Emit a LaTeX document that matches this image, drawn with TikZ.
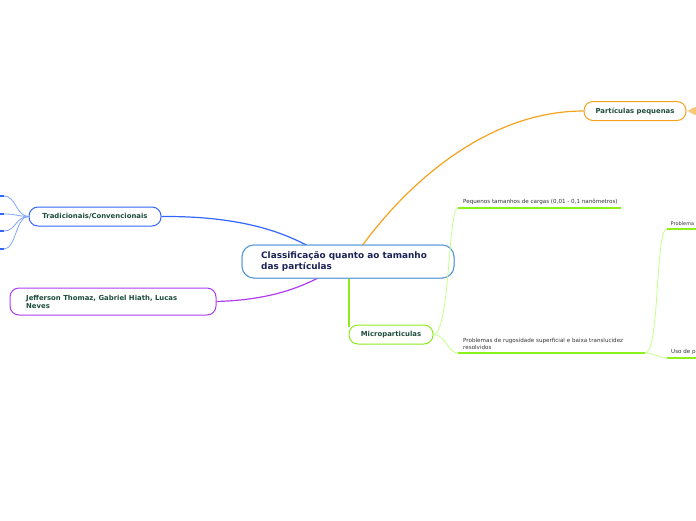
\documentclass[tikz,border=0pt]{standalone}
\usepackage{fontspec}
\setmainfont{DejaVu Sans}
\definecolor{cblue}{HTML}{5A9AD8}
\definecolor{navy}{HTML}{1C2255}
\definecolor{dgreen}{HTML}{1D4D3C}
\definecolor{tblue}{HTML}{3366FF}
\definecolor{lblue}{HTML}{7FA3FF}
\definecolor{cpurple}{HTML}{B03CF0}
\definecolor{corange}{HTML}{F5A21E}
\definecolor{cgreen}{HTML}{8CEB1E}
\definecolor{lgreen}{HTML}{C4FF8A}
\definecolor{ugreen}{HTML}{8CF01A}
\definecolor{txt}{HTML}{333333}
\tikzset{
  topic/.style={draw, line width=1pt, rounded corners=9pt, fill=white, font=\bfseries\fontsize{6.9}{8}\selectfont, text=dgreen, inner sep=0pt},
  small/.style={font=\fontsize{5.6}{7}\selectfont, text=txt, anchor=south west, inner sep=0pt, align=left},
  uline/.style={draw=ugreen, line width=1.6pt},
  sub/.style={draw=lgreen, line width=0.8pt},
  cbox/.style={draw=cblue, line width=1pt, rounded corners=12pt, fill=white, minimum width=212pt, minimum height=33pt, inner sep=0pt},
  ctxt/.style={anchor=west, font=\bfseries\fontsize{8.9}{11}\selectfont, text=navy, align=left, inner sep=0pt},
}
\begin{document}
\begin{tikzpicture}[x=1pt,y=-1pt]
\useasboundingbox (0,0) rectangle (696,520);
\coordinate (cTop) at (362,246);
\coordinate (cLeft) at (308,246);
\coordinate (cBot) at (320,277);
\coordinate (cMic) at (349,278);
\coordinate (cMicB) at (349,327);
% central node
\node[cbox] (center) at (348,261.5) {};
% Tradicionais
\node[topic, draw=tblue, minimum width=132pt, minimum height=19pt] (trad) at (95,216.5) {Tradicionais/Convencionais};
% Jefferson
\node[topic, draw=cpurple, minimum width=206pt, minimum height=27pt] (jeff) at (113,301.5) {};
\node[anchor=west, font=\bfseries\fontsize{6.9}{8}\selectfont, text=dgreen, align=left, inner sep=0pt] (jtext) at (26,301.5) {Jefferson Thomaz, Gabriel Hiath, Lucas\\Neves};
% Particulas pequenas
\node[topic, draw=corange, minimum width=102pt, minimum height=19pt] (pp) at (635,111) {Partículas pequenas};

% main connectors
\draw[tblue, line width=1.2pt] (trad.east) .. controls (230,216) and (275,228) .. (cLeft);
\draw[cpurple, line width=1.2pt] (jeff.east) .. controls (265,300) and (295,290) .. (cBot);
\draw[corange, line width=1.2pt] (cTop) .. controls (410,180) and (490,111) .. (pp.west);
\draw[cgreen, line width=1.1pt] (cMic) -- (cMicB);
% central node on top of connectors
\node[cbox] (center2) at (348,261.5) {};
\node[ctxt] (ctext) at (261,261.5) {Classificação quanto ao tamanho\\das partículas};
% Microparticulas
\node[topic, draw=cgreen, minimum width=84pt, minimum height=19pt] (mic) at (391,334.5) {Microparticulas};

% left sub-branches of Tradicionais
\foreach \yy [count=\i] in {196,214,231,249} {
  \coordinate (l\i) at (4,\yy);
  \coordinate (e\i) at (0,\yy);
  \draw[lblue, line width=0.8pt] (trad.west) .. controls (16,216) and (16,\yy) .. (l\i);
  \draw[tblue, line width=1.4pt] (l\i) -- (e\i);
}
% orange right stub
\coordinate (o1) at (696,107);
\coordinate (o2) at (696,115);
\fill[corange!60] (pp.east) .. controls (690,111) and (692,107) .. (o1) -- (o2) .. controls (692,115) and (690,111) .. (pp.east);

% Microparticulas children
\coordinate (m1s) at (458,208);
\coordinate (m1e) at (621,208);
\coordinate (m2s) at (458,353);
\coordinate (m2e) at (645,353);
\draw[sub] (mic.east) .. controls (450,334) and (448,208) .. (m1s);
\draw[uline] (m1s) -- (m1e);
\node[small] (t1) at (463,205) {Pequenos tamanhos de cargas (0,01 - 0,1 nanômetros)};
\draw[sub] (mic.east) .. controls (446,335) and (448,353) .. (m2s);
\draw[uline] (m2s) -- (m2e);
\node[small] (t2) at (463,350) {Problemas de rugosidade superficial e baixa translucidez\\resolvidos};
% grandchildren
\coordinate (g1s) at (667,229);
\coordinate (g1e) at (696,229);
\coordinate (g2s) at (667,358);
\coordinate (g2e) at (696,358);
\draw[sub] (m2e) .. controls (660,353) and (655,229) .. (g1s);
\draw[uline] (g1s) -- (g1e);
\node[small, font=\fontsize{5}{6}\selectfont] (t3) at (670.5,226) {Problema};
\draw[sub] (m2e) .. controls (655,353) and (658,358) .. (g2s);
\draw[uline] (g2s) -- (g2e);
\node[small] (t4) at (671,355) {Uso de p};
\end{tikzpicture}
\end{document}
